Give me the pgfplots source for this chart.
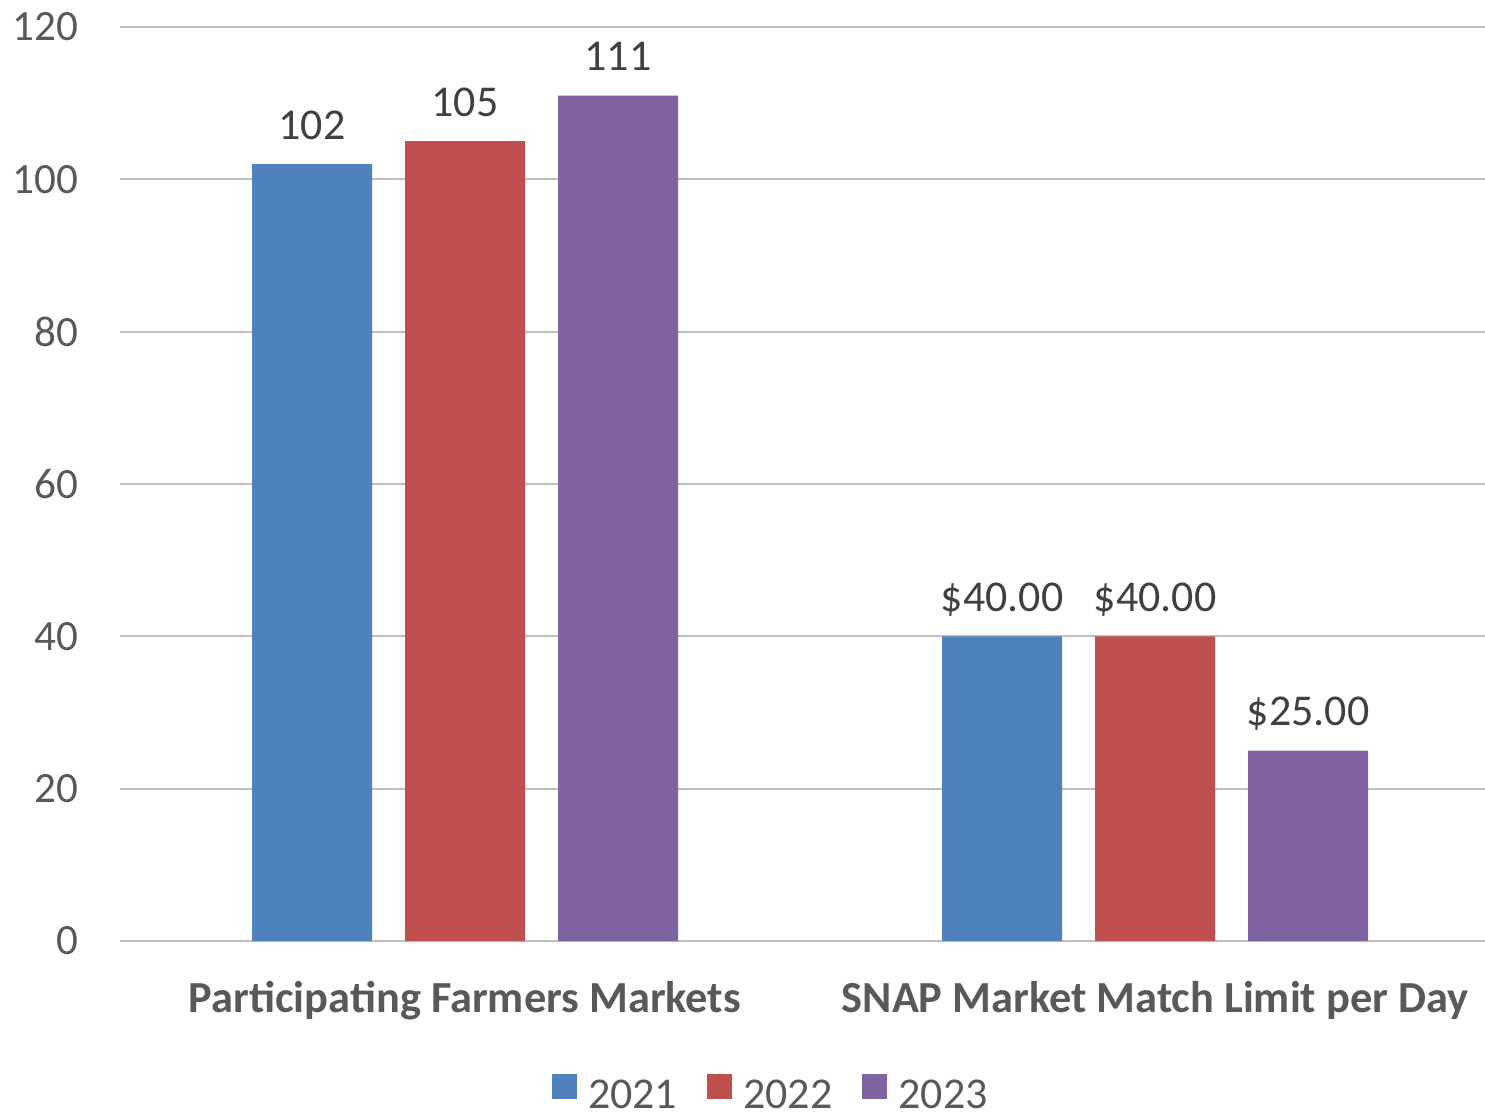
\documentclass[border=0pt]{standalone}
\usepackage{pgfplots}
\pgfplotsset{compat=1.18}
\usepackage{fontspec}
\setmainfont{Carlito}
\definecolor{c21}{HTML}{4F81BD}
\definecolor{c22}{HTML}{C0504D}
\definecolor{c23}{HTML}{8064A2}
\definecolor{txt}{HTML}{595959}
\definecolor{lbl}{HTML}{404040}
\definecolor{grid}{HTML}{D9D9D9}
\begin{document}
\begin{tikzpicture}
\begin{axis}[
  at={(0,0)}, anchor=south west,
  scale only axis, width=341.25pt, height=228.5pt,
  ybar, bar width=0.174,
  xmin=-0.5, xmax=1.478, ymin=0, ymax=120,
  ytick={0,20,...,120},
  xtick={0,1},
  xticklabels={Participating Farmers Markets, SNAP Market Match Limit per Day},
  axis line style={draw=none},
  major tick length=0pt,
  xmajorgrids=false, ymajorgrids=true, grid style={grid, line width=0.5pt},
  /pgf/number format/assume math mode=true,
  yticklabel style={font=\fontsize{10.8}{12}\selectfont, text=txt, anchor=east, inner sep=0pt, xshift=-10.25pt},
  xticklabel style={font=\fontsize{11.1}{12}\selectfont\bfseries, text=txt, anchor=base, inner sep=0pt, yshift=-17.75pt},
  point meta=explicit symbolic,
  nodes near coords,
  every node near coord/.append style={font=\fontsize{11}{12}\selectfont, text=lbl, anchor=base, inner sep=0pt, yshift=6.25pt},
  legend style={at={(0.479,0)}, anchor=center, yshift=-39pt, draw=none, fill=none,
    font=\fontsize{11}{12}\selectfont, text=txt, legend columns=3,
    /tikz/every even column/.append style={column sep=5.5pt},
    /tikz/every odd column/.append style={column sep=0.8pt},
    inner sep=0pt, outer sep=0pt},
  legend image code/.code={\fill[#1] (0pt,-0.4pt) rectangle (6.2pt,5.8pt);},
]
\addplot[fill=c21, draw=none, bar shift=-0.2217] coordinates {(0,102) [102] (1,40) [\$40.00]};
\addplot[fill=c22, draw=none, bar shift=0] coordinates {(0,105) [105] (1,40) [\$40.00]};
\addplot[fill=c23, draw=none, bar shift=0.2217] coordinates {(0,111) [111] (1,25) [\$25.00]};
\legend{2021,2022,2023}
\end{axis}
\pgfresetboundingbox
\path[use as bounding box] (-30pt,-43.25pt) rectangle (341.25pt,235.25pt);
\end{tikzpicture}
\end{document}
